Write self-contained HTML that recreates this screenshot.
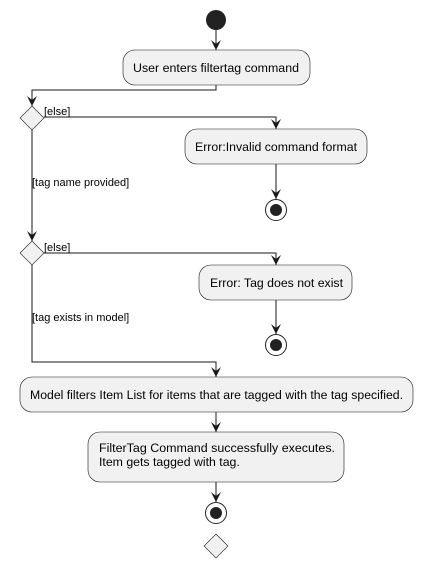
<!DOCTYPE html>
<html><head><style>body{margin:0;background:#fff}svg{display:block}</style></head><body>
<svg width="423" height="569" xmlns="http://www.w3.org/2000/svg" font-family="Liberation Sans, sans-serif">
<defs><marker id="a" viewBox="0 0 10 10" refX="10" refY="5" markerWidth="10" markerHeight="10" orient="auto" markerUnits="userSpaceOnUse"><path d="M0,0 L10,5 L0,10 L4,5 Z" fill="#181818"/></marker></defs>
<g stroke="#181818" stroke-width="1" fill="none">
<path d="M216,30 V50" marker-end="url(#a)"/>
<path d="M216,85 V90 H32 V106" marker-end="url(#a)"/>
<path d="M44,117 H276 V129" marker-end="url(#a)"/>
<path d="M276,164 V199" marker-end="url(#a)"/>
<path d="M32,129 V241" marker-end="url(#a)"/>
<path d="M44,253 H276 V265" marker-end="url(#a)"/>
<path d="M276,300 V334" marker-end="url(#a)"/>
<path d="M32,265 V362 H216 V377" marker-end="url(#a)"/>
<path d="M216,412 V432" marker-end="url(#a)"/>
<path d="M216,482 V502" marker-end="url(#a)"/>
</g>
<circle cx="216" cy="20" r="10" fill="#222"/>
<g fill="#f1f1f1" stroke="#181818" stroke-width="0.6">
<rect x="123" y="50" width="187" height="35" rx="12"/>
<rect x="185" y="129" width="182" height="35" rx="12"/>
<rect x="199" y="265" width="153" height="35" rx="12"/>
<rect x="20" y="377" width="393" height="35" rx="12"/>
<rect x="88" y="432" width="256" height="50" rx="12"/>
<path d="M32,106 L44,118 L32,130 L20,118 Z"/>
<path d="M32,241 L44,253 L32,265 L20,253 Z"/>
<path d="M216,534 L228,546 L216,558 L204,546 Z"/>
</g>
<g fill="#fff" stroke="#222" stroke-width="1">
<circle cx="276" cy="210" r="10.5"/><circle cx="276" cy="345" r="10.5"/><circle cx="216" cy="513" r="10.5"/>
</g>
<g fill="#222"><circle cx="276" cy="210" r="6"/><circle cx="276" cy="345" r="6"/><circle cx="216" cy="513" r="6"/></g>
<g font-size="12.3" fill="#000">
<text x="133" y="72" textLength="166" lengthAdjust="spacingAndGlyphs">User enters filtertag command</text>
<text x="195" y="151" textLength="162" lengthAdjust="spacingAndGlyphs">Error:Invalid command format</text>
<text x="210" y="287" textLength="133" lengthAdjust="spacingAndGlyphs">Error: Tag does not exist</text>
<text x="30" y="399" textLength="373" lengthAdjust="spacingAndGlyphs">Model filters Item List for items that are tagged with the tag specified.</text>
<text x="99" y="452" textLength="236" lengthAdjust="spacingAndGlyphs">FilterTag Command successfully executes.</text>
<text x="99" y="466">Item gets tagged with tag.</text>
</g>
<g font-size="11" fill="#000">
<text x="44" y="115">[else]</text>
<text x="32" y="186">[tag name provided]</text>
<text x="44" y="251">[else]</text>
<text x="32" y="321">[tag exists in model]</text>
</g>
</svg>
</body></html>
